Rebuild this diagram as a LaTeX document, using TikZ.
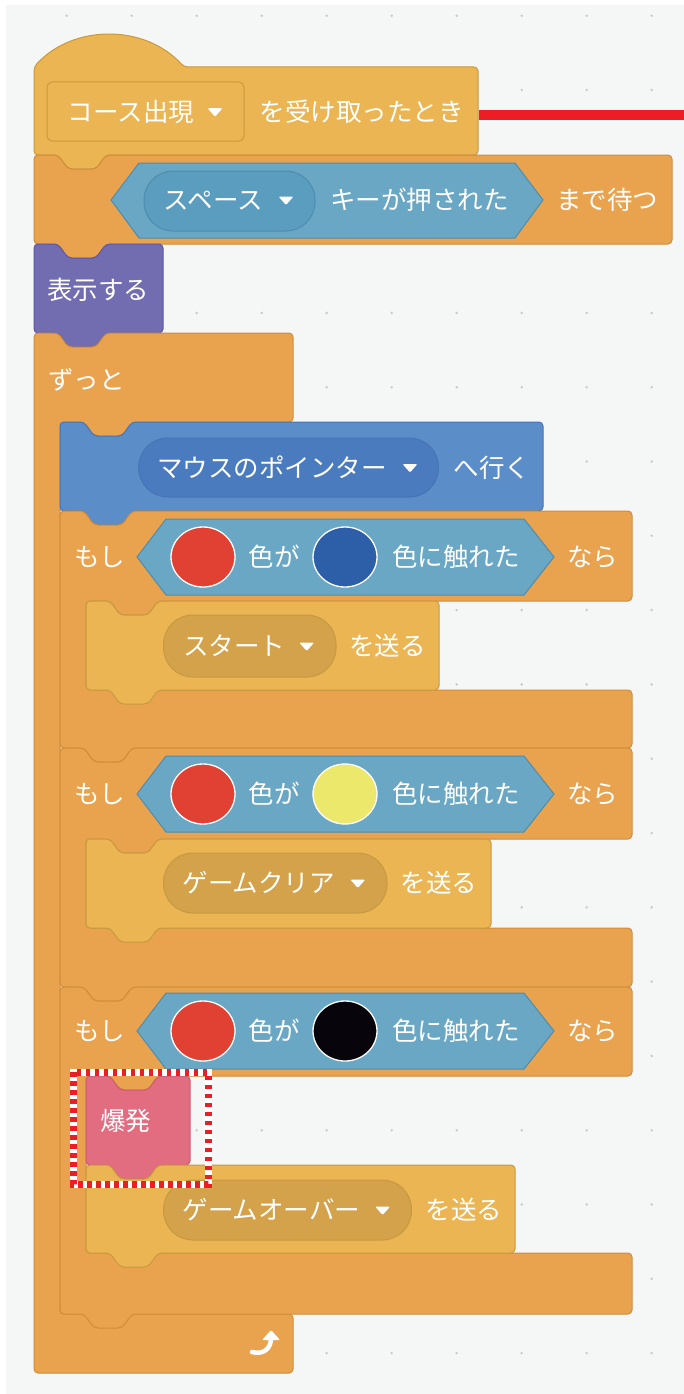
\documentclass[tikz,border=0pt]{standalone}
\usepackage{fontspec}
\newfontfamily\jpfont{Noto Sans CJK JP}
\usetikzlibrary{shapes.geometric}
\definecolor{bgc}{HTML}{F5F6F6}
\definecolor{dotc}{HTML}{C9CBCC}
\definecolor{evf}{HTML}{EAB552}
\definecolor{evd}{HTML}{C79A40}
\definecolor{evp}{HTML}{D3A24A}
\definecolor{ctf}{HTML}{E9A34F}
\definecolor{ctd}{HTML}{CF8D3A}
\definecolor{snf}{HTML}{69A7C4}
\definecolor{snd}{HTML}{4E8CAD}
\definecolor{snp}{HTML}{5B9DBF}
\definecolor{mof}{HTML}{5B8DC9}
\definecolor{mod}{HTML}{4874B3}
\definecolor{mop}{HTML}{4A7BBE}
\definecolor{lkf}{HTML}{726CB0}
\definecolor{lkd}{HTML}{5E58A0}
\definecolor{pkf}{HTML}{E26D80}
\definecolor{pkd}{HTML}{CB5A6E}
\definecolor{redc}{HTML}{E04133}
\definecolor{bluec}{HTML}{2D5EA8}
\definecolor{yelc}{HTML}{ECE86C}
\definecolor{blkc}{HTML}{08040C}
\definecolor{redmark}{HTML}{EE1C25}
\tikzset{
  x=1pt, y=-1pt,
  lbl/.style={font=\jpfont\fontsize{25.5}{30}\selectfont, text=white, inner sep=0pt, anchor=west, text height=22.4pt, text depth=3.1pt},
  blk/.style={line width=1pt, rounded corners=4pt},
  swatch/.style={ellipse, draw=white, line width=1.3pt, minimum width=64pt, minimum height=60pt, inner sep=0pt},
  pillsh/.style={line width=1pt, rounded corners=29pt},
}
% stack block: x1 y1 x2 y2 fill draw
\newcommand\stk[6]{\draw[blk,fill=#5,draw=#6] (#1,#2) -- ({#1+24},#2) -- ({#1+34},{#2+14}) -- ({#1+62},{#2+14}) -- ({#1+72},#2) -- (#3,#2) -- (#3,#4) -- ({#1+72},#4) -- ({#1+62},{#4+14}) -- ({#1+34},{#4+14}) -- ({#1+24},#4) -- (#1,#4) -- cycle;}
% if block: top, arm bottom, inner bottom, end
\newcommand\ifblk[4]{\draw[blk,fill=ctf,draw=ctd] (60,#1) -- (84,#1) -- (94,{#1+14}) -- (122,{#1+14}) -- (132,#1) -- (632,#1) -- (632,#2) -- (158,#2) -- (148,{#2+14}) -- (120,{#2+14}) -- (110,#2) -- (86,#2) -- (86,#3) -- (632,#3) -- (632,#4) -- (132,#4) -- (122,{#4+14}) -- (94,{#4+14}) -- (84,#4) -- (60,#4) -- cycle;}
% condition row: y, second colour, name prefix
\newcommand\cond[3]{%
  \draw[fill=snf,draw=snd,line width=1pt] (137,#1) -- (166,{#1-38}) -- (524,{#1-38}) -- (554,#1) -- (524,{#1+38}) -- (166,{#1+38}) -- cycle;
  \node[lbl] (#3if) at (74,#1) {もし};
  \node[swatch,fill=redc] (#3ca) at (203,#1) {};
  \node[lbl] (#3ga) at (248.7,#1) {色が};
  \node[swatch,fill=#2] (#3cb) at (345,#1) {};
  \node[lbl] (#3tr) at (391.8,#1) {色に触れた};
  \node[lbl] (#3nr) at (567,#1) {なら};}
\newcommand\pill[6]{\draw[pillsh,fill=#5,draw=#6] (#1,#2) rectangle (#3,#4);}
\newcommand\tri[2]{\fill[white,rounded corners=1.2pt] ({#1-7.5},{#2-3.5}) -- ({#1+7.5},{#2-3.5}) -- (#1,{#2+5}) -- cycle;}
\begin{document}
\begin{tikzpicture}
\useasboundingbox (0,0) rectangle (684,1394);
\fill[white] (0,0) rectangle (684,1394);
\fill[bgc] (6,5) rectangle (684,1394);
\foreach \i in {0,...,9}
  \foreach \j in {0,...,18}
    \fill[dotc] ({66.7+65*\i},{15.7+74.3*\j}) circle (1.4pt);

% hat block
\draw[blk,fill=evf,draw=evd] (34,155) -- (34,67) .. controls (73,24) and (145,24) .. (184,67) -- (478,67) -- (478,155) -- (106,155) -- (96,169) -- (68,169) -- (58,155) -- cycle;
\draw[fill=evf,draw=evd,line width=1pt,rounded corners=5pt] (47,82) rectangle (244,141);
\node[lbl] (hatdd) at (67.6,111.7) {コース出現};
\tri{215}{111.7}
\node[lbl] (hattx) at (259.6,111.7) {を受け取ったとき};
\coordinate (hatR) at (479,115);
\coordinate (edgeR) at (684,115);
\draw[redmark,line width=10pt] (hatR) -- (edgeR);

% wait until block
\stk{34}{155}{672}{244}{ctf}{ctd}
\draw[fill=snf,draw=snd,line width=1pt] (111,200) -- (139,163) -- (515,163) -- (543,200) -- (515,238) -- (139,238) -- cycle;
\pill{144}{171}{315}{231}{snp}{snd}
\node[lbl] (keydd) at (163.6,200) {スペース};
\tri{286}{200}
\node[lbl] (keytx) at (330,200) {キーが押された};
\node[lbl] (waittx) at (556,200) {まで待つ};

% show block
\stk{34}{244}{163}{333}{lkf}{lkd}
\node[lbl] (showtx) at (47,290) {表示する};

% forever block
\draw[blk,fill=ctf,draw=ctd] (34,333) -- (58,333) -- (68,347) -- (96,347) -- (106,333) -- (293,333) -- (293,422) -- (132,422) -- (122,436) -- (94,436) -- (84,422) -- (60,422) -- (60,1314) -- (293,1314) -- (293,1373) -- (34,1373) -- cycle;
\node[lbl] (forevertx) at (48,380) {ずっと};
\coordinate (loopA) at (252,1352);
\coordinate (loopB) at (271,1338);
\draw[white,line width=4.5pt,line cap=round] (loopA) .. controls (263,1355) and (271,1349) .. (loopB);
\fill[white,rounded corners=1pt] (262,1340) -- (271,1330) -- (280,1340) -- cycle;

% go to block
\stk{60}{422}{543}{511}{mof}{mod}
\pill{138.7}{438}{438.5}{497}{mop}{mod}
\node[lbl] (gotodd) at (157,467.5) {マウスのポインター};
\tri{410}{467.5}
\node[lbl] (gototx) at (453.7,467.5) {へ行く};

% if 1
\ifblk{511}{601}{690}{748}
\cond{557}{bluec}{a}
\stk{86}{601}{439}{690}{evf}{evd}
\pill{163.6}{615}{336}{677}{evp}{evd}
\node[lbl] (b1dd) at (183,646) {スタート};
\tri{306.7}{646}
\node[lbl] (b1tx) at (349,646) {を送る};

% if 2
\ifblk{748}{839}{928}{987}
\cond{794}{yelc}{b}
\stk{86}{839}{491}{928}{evf}{evd}
\pill{163.6}{853}{387}{913}{evp}{evd}
\node[lbl] (b2dd) at (182.4,883) {ゲームクリア};
\tri{357.8}{883}
\node[lbl] (b2tx) at (400.5,883) {を送る};

% if 3
\ifblk{987}{1076}{1253}{1314}
\cond{1031}{blkc}{c}
\stk{86}{1076}{190}{1165}{pkf}{pkd}
\node[lbl] (boomtx) at (100,1121) {爆発};
\stk{86}{1165}{515}{1253}{evf}{evd}
\pill{163.6}{1180}{411.4}{1240}{evp}{evd}
\node[lbl] (b3dd) at (182.4,1210) {ゲームオーバー};
\tri{382.6}{1210}
\node[lbl] (b3tx) at (425.4,1210) {を送る};

% highlight frame
\draw[white,line width=7pt] (73,1072) rectangle (208,1184);
\draw[redmark,line width=7pt,dash pattern=on 4.5pt off 4.5pt] (73,1072) rectangle (208,1184);
\end{tikzpicture}
\end{document}
